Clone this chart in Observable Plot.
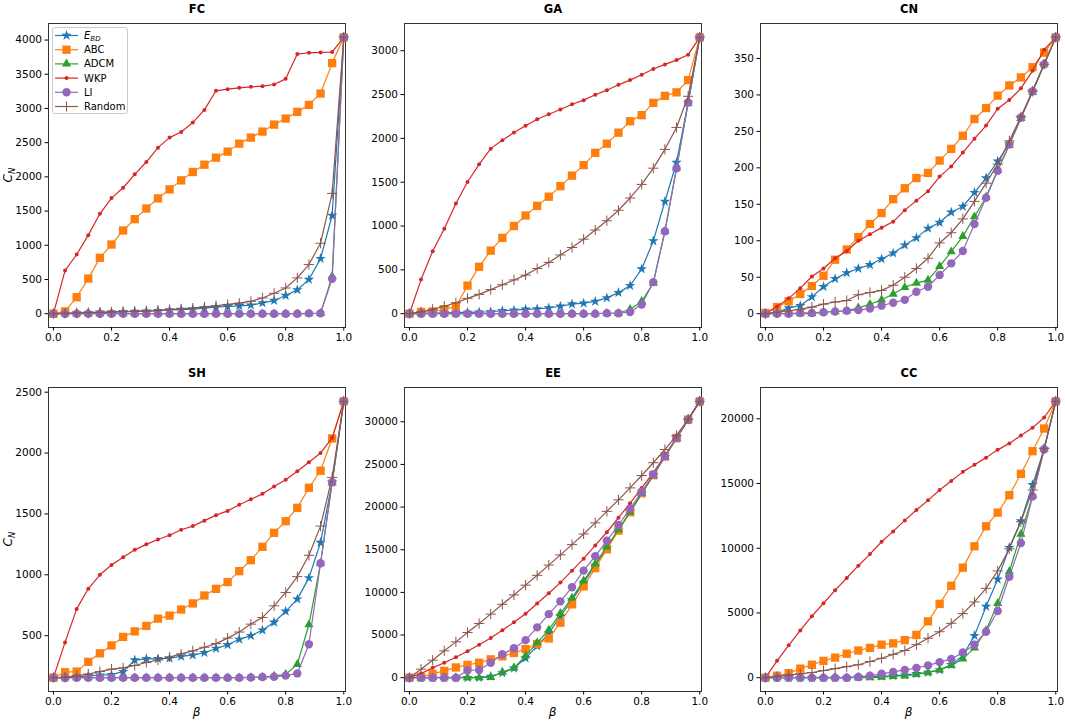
<!DOCTYPE html>
<html><head><meta charset="utf-8">
<script src="https://cdn.jsdelivr.net/npm/d3@7"></script>
<script src="https://cdn.jsdelivr.net/npm/@observablehq/plot@0.6"></script>
<style>
body{margin:0;background:#fff;}
#wrap{position:relative;width:1065px;height:722px;overflow:hidden;background:#fff;font-family:"DejaVu Sans",sans-serif;}
#wrap > svg{position:absolute;}
</style></head><body><div id="wrap"></div>
<script>
// ---------- data ----------
const beta = [0,0.04,0.08,0.12,0.16,0.2,0.24,0.28,0.32,0.36,0.4,0.44,0.48,0.52,0.56,0.6,0.64,0.68,0.72,0.76,0.8,0.84,0.88,0.92,0.96,1.0];
const methods = ["EBD","ABC","ADCM","WKP","LI","Random"];
const colors = ["#1f77b4","#ff7f0e","#2ca02c","#d62728","#9467bd","#8c564b"];
const symbols = ["star","square","triangle","circle","circle","plus"];
const xTicks = [0,0.2,0.4,0.6,0.8,1.0];

// FC
const fcEBD = [0,5,10,15,20, 22,28,32,38,45, 55,60,65,80,95, 105,115,125,158,192, 265,348,500,805,1435, 4040];
const fcABC = [0,34,240,513,816, 1011,1216,1382,1538,1685, 1817,1949,2071,2178,2281, 2369,2486,2574,2662,2764, 2852,2950,3052,3218,3663, 4040];
const fcADCM = [0,0,0,0,0, 0,0,0,0,0, 0,0,0,0,0, 0,0,0,0,0, 0,0,0,5,545, 4040];
const fcWKP = [0,630,865,1148,1460, 1690,1841,2037,2217,2427, 2574,2657,2794,2979,3258, 3282,3302,3316,3326,3350, 3433,3795,3814,3819,3824, 4040];
const fcLI = [0,0,0,0,0, 0,0,0,0,0, 0,0,0,0,0, 0,0,0,0,0, 0,0,5,5,510, 4040];
const fcRandom = [0,5,10,15,20, 25,30,35,40,45, 60,70,80,100,115, 135,155,181,230,298, 376,523,718,1030,1758, 4040];
const fcTicks = [0,500,1000,1500,2000,2500,3000,3500,4000];

// GA
const gaEBD = [0,5,8,10,12, 15,18,22,35,40, 50,55,65,85,110, 120,140,180,240,320, 510,830,1280,1725,2410, 3153];
const gaABC = [0,20,25,50,80, 320,535,720,865,1000, 1120,1230,1335,1455,1575, 1695,1835,1940,2065,2195, 2265,2405,2485,2525,2665, 3153];
const gaADCM = [0,0,0,0,0, 0,0,0,0,0, 0,0,0,0,0, 0,0,5,5,50, 140,350,940,1660,2400, 3153];
const gaWKP = [0,389,713,968,1258, 1502,1704,1883,1979,2066, 2143,2219,2276,2329,2390, 2436,2497,2550,2611,2665, 2726,2791,2844,2893,2955, 3153];
const gaLI = [0,0,0,0,0, 0,0,0,0,0, 0,0,0,0,0, 0,0,5,5,20, 105,360,940,1660,2410, 3153];
const gaRandom = [0,20,50,85,125, 175,220,275,330,385, 440,515,585,670,755, 850,955,1060,1180,1320, 1475,1660,1875,2125,2480, 3153];
const gaTicks = [0,500,1000,1500,2000,2500,3000];

// CN
const cnEBD = [0,2,8,11,23, 37,48,56,62,67, 75,83,94,104,117, 125,139,147,166,186, 209,233,269,305,342, 379];
const cnABC = [1,9,17,27,38, 52,74,88,105,123, 138,157,172,186,193, 210,226,244,267,282, 299,313,324,338,358, 379];
const cnADCM = [0,0,0,0,0, 2,3,4,8,13, 19,27,36,42,46, 65,85,106,133,160, 197,231,268,304,342, 379];
const cnWKP = [0,10,21,35,51, 62,76,86,100,109, 118,126,142,155,168, 188,202,221,240,258, 281,293,309,333,362, 379];
const cnLI = [0,0,0,1,1, 2,3,4,5,7, 11,15,19,30,37, 53,69,86,123,159, 196,232,269,305,342, 379];
const cnRandom = [0,2,4,6,9, 13,16,18,26,29, 32,39,50,62,76, 97,111,130,154,179, 205,237,270,305,342, 379];
const cnTicks = [0,50,100,150,200,250,300,350];

// SH
const shEBD = [155,155,160,170,175, 180,205,300,310,310, 315,330,340,360,395, 425,470,500,545,610, 700,800,975,1265,1760, 2425];
const shABC = [155,200,205,285,355, 420,490,535,580,640, 665,715,765,830,885, 940,1030,1120,1230,1345, 1440,1550,1715,1855,2120, 2425];
const shADCM = [155,155,155,155,155, 155,155,155,155,155, 155,155,155,155,155, 155,155,157,160,168, 182,265,590,1095,1755, 2425];
const shWKP = [155,445,720,885,1000, 1080,1145,1205,1250,1290, 1325,1370,1400,1445,1490, 1525,1575,1620,1665,1725, 1780,1850,1925,2000,2125, 2425];
const shLI = [155,155,155,155,155, 155,155,155,155,155, 155,155,155,155,155, 155,155,157,160,163, 172,190,430,1095,1760, 2425];
const shRandom = [155,158,170,185,205, 225,235,255,280,300, 325,350,375,405,435, 480,530,595,650,745, 855,985,1160,1400,1800, 2425];
const shTicks = [500,1000,1500,2000,2500];

// EE
const eeEBD = [0,0,0,0,0, 0,0,150,550,1100, 2300,3700,5200,7200,9100, 11150,13150,15200,17300,19400, 21550,23700,25900,28050,30250, 32400];
const eeABC = [0,100,450,800,1200, 1500,1750,2150,2500,2900, 3350,3950,4600,6450,8600, 10700,12850,15050,17250,19400, 21650,23750,25950,28100,30250, 32400];
const eeADCM = [0,0,0,0,0, 0,0,50,650,1150, 2550,4100,5600,7550,9350, 11350,13350,15350,17350,19450, 21600,23700,25900,28050,30250, 32400];
const eeWKP = [0,500,1150,1750,2400, 3100,3850,4650,5550,6500, 7500,8700,9900,11150,12550, 13950,15500,17050,18750,20450, 22250,24050,26050,28150,30300, 32400];
const eeLI = [0,0,0,0,0, 850,900,1750,2750,3450, 4400,5900,7450,8950,10600, 12550,14250,16050,17900,19800, 21800,23850,25950,28100,30250, 32400];
const eeRandom = [0,1000,2050,3150,4200, 5300,6350,7450,8600,9700, 10850,12000,13200,14400,15600, 16850,18150,19500,20850,22250, 23700,25200,26750,28400,30300, 32400];
const eeTicks = [0,5000,10000,15000,20000,25000,30000];

// CC
const ccEBD = [0,0,0,0,0, 0,0,0,50,100, 100,150,200,300,400, 600,1000,1700,3250,5500, 7600,10050,12100,14900,17650, 21350];
const ccABC = [0,150,350,700,1000, 1300,1550,1850,2100,2300, 2550,2650,2900,3300,4350, 5700,7100,8500,10150,11700, 12750,14100,15750,17500,19250, 21350];
const ccADCM = [0,0,0,0,0, 0,0,0,0,0, 50,100,150,250,400, 600,950,1450,2300,3650, 5750,8200,11100,14050,17650, 21350];
const ccWKP = [0,1300,2500,3650,4750, 5750,6750,7700,8650,9550, 10500,11300,12150,12950,13700, 14500,15200,15900,16450,17000, 17600,18100,18700,19300,20100, 21350];
const ccLI = [0,0,0,0,0, 0,0,0,50,150, 300,450,600,750,950, 1200,1450,1950,2550,3550, 5150,7800,10400,14000,17650, 21350];
const ccRandom = [0,100,200,300,400, 550,700,850,1000,1250, 1500,1800,2100,2550,3050, 3550,4200,4950,5850,6900, 8250,9950,12050,14500,17700, 21350];
const ccTicks = [0,5000,10000,15000,20000];

// ---------- styling ----------
const radii = [3.3, 4.7, 3.4, 2, 4.2, 3.4];
const panels = [
  {name:"FC", series:[fcEBD,fcABC,fcADCM,fcWKP,fcLI,fcRandom], ticks:fcTicks, left:0, top:0},
  {name:"GA", series:[gaEBD,gaABC,gaADCM,gaWKP,gaLI,gaRandom], ticks:gaTicks, left:356, top:0},
  {name:"CN", series:[cnEBD,cnABC,cnADCM,cnWKP,cnLI,cnRandom], ticks:cnTicks, left:712, top:0},
  {name:"SH", series:[shEBD,shABC,shADCM,shWKP,shLI,shRandom], ticks:shTicks, left:0, top:364},
  {name:"EE", series:[eeEBD,eeABC,eeADCM,eeWKP,eeLI,eeRandom], ticks:eeTicks, left:356, top:364},
  {name:"CC", series:[ccEBD,ccABC,ccADCM,ccWKP,ccLI,ccRandom], ticks:ccTicks, left:712, top:364}
];

const wrap = document.getElementById("wrap");
const W = 353, ML = 48, MR = 8, MT = 23, FH = 304;

panels.forEach(p => {
  const all = p.series.flat();
  const lo = d3.min(all), hi = d3.max(all), pad = (hi - lo) * 0.05;
  const marks = [Plot.frame({stroke:"#333", strokeWidth:1})];
  methods.forEach((m, i) => {
    const rows = beta.map((b, j) => ({b, v: p.series[i][j]}));
    marks.push(Plot.line(rows, {x:"b", y:"v", stroke:colors[i], strokeWidth:1.2}));
    const isStroke = symbols[i] === "plus";
    marks.push(Plot.dot(rows, {x:"b", y:"v", symbol:symbols[i], r:radii[i],
      fill: isStroke ? "none" : colors[i], stroke: isStroke ? colors[i] : "none", strokeWidth: 1}));
  });
  marks.push(Plot.axisX({ticks:xTicks, tickFormat:d3.format(".1f"), tickSize:3.5, tickPadding:3, label:null}));
  marks.push(Plot.axisY({ticks:p.ticks, tickFormat:d3.format("d"), tickSize:3.5, tickPadding:3, label:null}));
  marks.push(Plot.text([p.name], {text:d => d, frameAnchor:"top", dy:-11, lineAnchor:"bottom", fontSize:11.5, fontWeight:"bold"}));
  const mb = p.top === 0 ? 35 : 31;
  const svg = Plot.plot({
    width: W, height: MT + FH + mb,
    marginLeft: ML, marginRight: MR, marginTop: MT, marginBottom: mb,
    style: {fontFamily:"DejaVu Sans", fontSize:"10.5px", color:"black", background:"transparent", overflow:"visible"},
    x: {domain:[-0.017, 1.006]},
    y: {domain:[lo - pad, hi + pad]},
    marks
  });
  svg.style.left = p.left + "px";
  svg.style.top = p.top + "px";
  wrap.appendChild(svg);
});

// ---------- overlay: legend and axis labels ----------
const ov = d3.create("svg").attr("width",1065).attr("height",722)
  .style("left","0px").style("top","0px").style("pointer-events","none")
  .style("font-family","DejaVu Sans");
const symMap = {star:d3.symbolStar, square:d3.symbolSquare, triangle:d3.symbolTriangle, circle:d3.symbolCircle, plus:d3.symbolPlus};
const leg = ov.append("g");
leg.append("rect").attr("x",52.5).attr("y",27.5).attr("width",75).attr("height",86).attr("rx",2.5)
  .attr("fill","white").attr("fill-opacity",0.85).attr("stroke","#ccc");
methods.forEach((m, i) => {
  const y = 35.5 + i * 14.2;
  leg.append("line").attr("x1",55).attr("x2",78).attr("y1",y).attr("y2",y).attr("stroke",colors[i]).attr("stroke-width",1.2);
  const isStroke = symbols[i] === "plus";
  leg.append("path").attr("transform",`translate(66.5,${y})`)
    .attr("d", d3.symbol(symMap[symbols[i]], Math.PI * radii[i] * radii[i])())
    .attr("fill", isStroke ? "none" : colors[i]).attr("stroke", isStroke ? colors[i] : "none").attr("stroke-width",1);
  const t = leg.append("text").attr("x",84).attr("y",y).attr("dy","0.35em").attr("font-size",10).attr("fill","black");
  if (m === "EBD") {
    t.append("tspan").attr("font-style","italic").text("E");
    t.append("tspan").attr("font-style","italic").attr("font-size",7).attr("dy",2).text("BD");
  } else t.text(m);
});
// y labels
[175, 539].forEach(cy => {
  const t = ov.append("text").attr("transform",`translate(12,${cy}) rotate(-90)`).attr("text-anchor","middle").attr("font-size",12);
  t.append("tspan").attr("font-style","italic").text("C");
  t.append("tspan").attr("font-style","italic").attr("font-size",8.5).attr("dy",2.5).text("N");
});
// x labels
[196.5, 552.5, 908.5].forEach(cx => {
  ov.append("text").attr("x",cx).attr("y",716).attr("text-anchor","middle").attr("font-size",12).attr("font-style","italic").text("β");
});
wrap.appendChild(ov.node());
</script></body></html>
